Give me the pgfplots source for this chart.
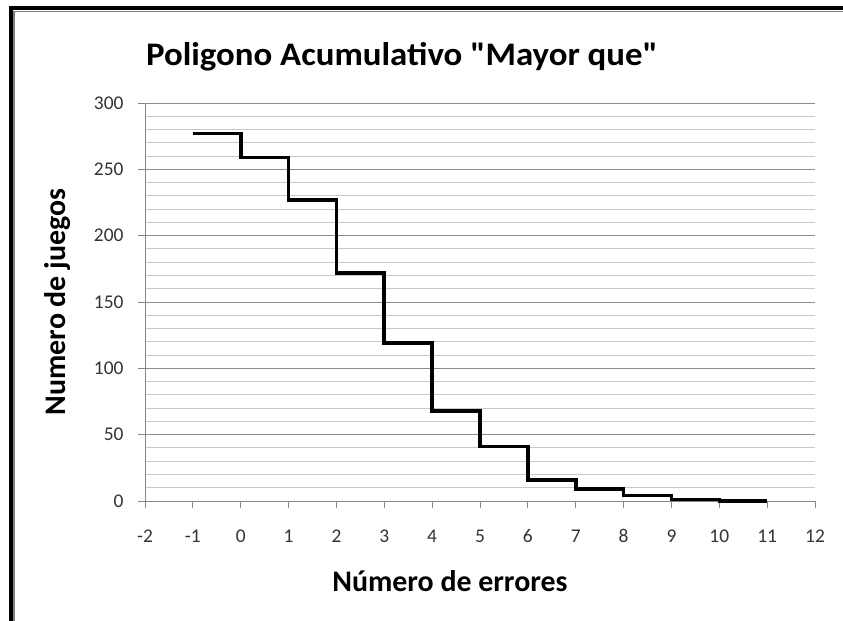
\documentclass[border=0pt]{standalone}
\usepackage{pgfplots}
\pgfplotsset{compat=1.18}
\usepackage{fontspec}
\setmainfont{Carlito}[Ligatures=TeXOff]
\definecolor{gridmaj}{HTML}{8C8C8C}
\definecolor{gridmin}{HTML}{C8C8C8}
\definecolor{axgray}{HTML}{868686}
\definecolor{ticktext}{HTML}{333333}
\begin{document}
\begin{tikzpicture}[x=1bp,y=1bp]
\useasboundingbox (0,0) rectangle (843,621);
\fill[white] (0,0) rectangle (843,621);
% frame
\draw[black,line width=4bp] (11,0) -- (11,612.5) -- (843,612.5);
\draw[gray,line width=1.5bp] (14,0) -- (14,609.5) -- (843,609.5);
\begin{axis}[
  at={(145bp,120bp)}, anchor=south west,
  scale only axis, width=670bp, height=398bp,
  xmin=-2, xmax=12, ymin=0, ymax=300,
  xtick={-2,...,12}, ytick={0,50,...,300},
  minor y tick num=4,
  ymajorgrids, yminorgrids,
  major grid style={gridmaj, line width=0.9bp},
  minor grid style={gridmin, line width=0.9bp},
  axis x line*=bottom, axis y line*=left,
  axis line style={axgray, line width=0.9bp, -},
  tick style={axgray, line width=0.9bp},
  tick align=outside, major tick length=7bp, minor tick length=0bp,
  ticklabel style={font=\fontsize{19.5}{21}\selectfont, text=ticktext},
  /pgf/number format/assume math mode=true,
  xticklabel style={yshift=-18bp, text height=13bp, text depth=0bp},
  yticklabel style={xshift=-11bp},
  clip=false,
]
\addplot[const plot mark left, black, line width=3.6bp, line join=miter] coordinates {
(-1,277) (0,259) (1,227) (2,172) (3,119) (4,68) (5,41) (6,16) (7,9) (8,4) (9,1) (10,0) (11,0)
};
\end{axis}
\node[font=\fontsize{33}{38}\selectfont\bfseries, xscale=1.06] at (402,564) {Poligono Acumulativo "Mayor que"};
\node[font=\fontsize{30}{34}\selectfont\bfseries, rotate=90] at (58,319) {Numero de juegos};
\node[font=\fontsize{30}{34}\selectfont\bfseries] at (450,40) {Número de errores};
\end{tikzpicture}
\end{document}
